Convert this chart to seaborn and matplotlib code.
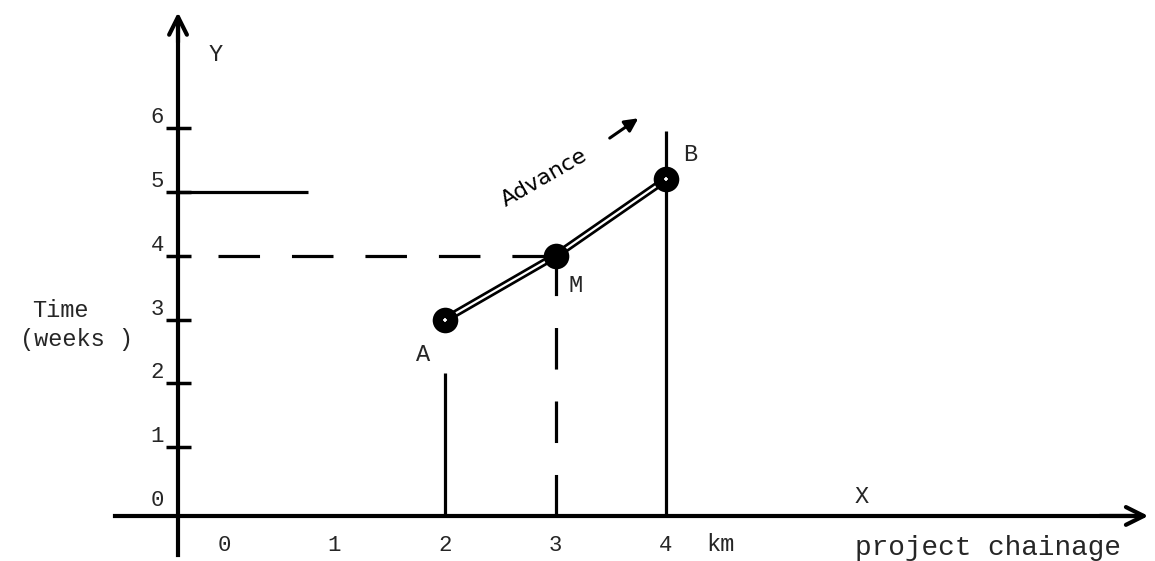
import numpy as np
import pandas as pd
import matplotlib
matplotlib.use("Agg")
import matplotlib.pyplot as plt
import seaborn as sns

# 데이터: 진행 구간 A-M-B
point_names = ["A", "M", "B"]
chainage_km = [2, 3, 4]
time_weeks = [3, 4, 5.2]

x_ticks = [0, 1, 2, 3, 4]
y_ticks = [0, 1, 2, 3, 4, 5, 6]

sns.set_theme(style="white")
plt.rcParams['font.family'] = ['Liberation Mono', 'DejaVu Sans Mono']

df = pd.DataFrame({"km": chainage_km, "week": time_weeks, "name": point_names})

fig = plt.figure(figsize=(11.55, 5.61), dpi=100)
ax = fig.add_axes([0, 0, 1, 1])
ax.set_xlim(-2.027, 8.425)
ax.set_ylim(-0.784, 8.009)

# 축 (원점이 아닌 위치)
y_axis_x = -0.416
x_axis_y = -0.078
for side in ["top", "right"]:
    ax.spines[side].set_visible(False)
ax.spines["left"].set_position(("data", y_axis_x))
ax.spines["bottom"].set_position(("data", x_axis_y))
ax.spines["left"].set_bounds(-0.69, 7.7)
ax.spines["bottom"].set_bounds(-0.986, 8.25)
for side in ["left", "bottom"]:
    ax.spines[side].set_linewidth(3)
    ax.spines[side].set_color("black")

arrow = dict(arrowstyle="->", lw=3, color="black", mutation_scale=32)
ax.annotate("", xy=(y_axis_x, 7.86), xytext=(y_axis_x, 7.3), arrowprops=arrow)
ax.annotate("", xy=(8.39, x_axis_y), xytext=(7.9, x_axis_y), arrowprops=arrow)

ax.set_yticks(y_ticks)
ax.set_yticklabels([str(t) for t in y_ticks])
ax.tick_params(axis="y", direction="inout", length=18, width=2.5, color="black",
               pad=1, labelsize=16, left=True)
for lab in ax.get_yticklabels():
    lab.set_va("bottom")
ax.yaxis.get_major_ticks()[0].tick1line.set_visible(False)

ax.set_xticks(x_ticks)
ax.set_xticklabels([str(t) for t in x_ticks])
ax.tick_params(axis="x", length=0, pad=14, labelsize=16, bottom=True)
ax.grid(False)

# 보조선
ax.vlines(chainage_km[0], x_axis_y, 2.16, color="black", lw=2.3)
ax.vlines(chainage_km[2], x_axis_y, 5.96, color="black", lw=2.3)
ax.hlines(5, y_axis_x, 0.76, color="black", lw=2.3)
ax.plot([-0.05, chainage_km[1]], [time_weeks[1]] * 2, color="black", lw=2.3,
        dashes=(13, 10))
ax.plot([chainage_km[1]] * 2, [x_axis_y, time_weeks[1]], color="black", lw=2.3,
        dashes=(13, 10))

# A-M-B 진행선 (이중선)
sns.lineplot(data=df, x="km", y="week", color="black", lw=5.5, sort=False,
             estimator=None, ax=ax, zorder=4)
sns.lineplot(data=df, x="km", y="week", color="white", lw=1.6, sort=False,
             estimator=None, ax=ax, zorder=5)
sns.scatterplot(data=df, x="km", y="week", color="black", s=340, ax=ax,
                zorder=6, linewidth=0)
ends = df[df["name"] != "M"]
sns.scatterplot(data=ends, x="km", y="week", color="white", s=12, marker="+",
                ax=ax, zorder=7, linewidth=1.2)
ax.set_xlabel("")
ax.set_ylabel("")

# 문자
fs = 17
ax.text(-0.08, 7.15, "Y", fontsize=fs, ha="center", va="center")
ax.text(5.77, 0.22, "X", fontsize=fs, ha="center", va="center")
ax.text(1.80, 2.45, "A", fontsize=fs, ha="center", va="center")
ax.text(3.18, 3.54, "M", fontsize=fs, ha="center", va="center")
ax.text(4.22, 5.58, "B", fontsize=fs, ha="center", va="center")
ax.text(4.49, -0.53, "km", fontsize=fs, ha="center", va="center")
ax.text(5.71, -0.58, "project chainage", fontsize=20, ha="left", va="center")
ax.text(-1.74, 3.15, "Time", fontsize=fs, ha="left", va="center")
ax.text(-1.85, 2.68, "(weeks )", fontsize=fs, ha="left", va="center")

ax.text(2.90, 5.22, "Advance", fontsize=16, rotation=30, ha="center",
        va="center", color="black", family=["DejaVu Sans"])
ax.annotate("", xy=(3.77, 6.18), xytext=(3.47, 5.82),
            arrowprops=dict(arrowstyle="-|>", lw=2.2, color="black",
                            mutation_scale=20))

fig.savefig("out.png", dpi=100)
